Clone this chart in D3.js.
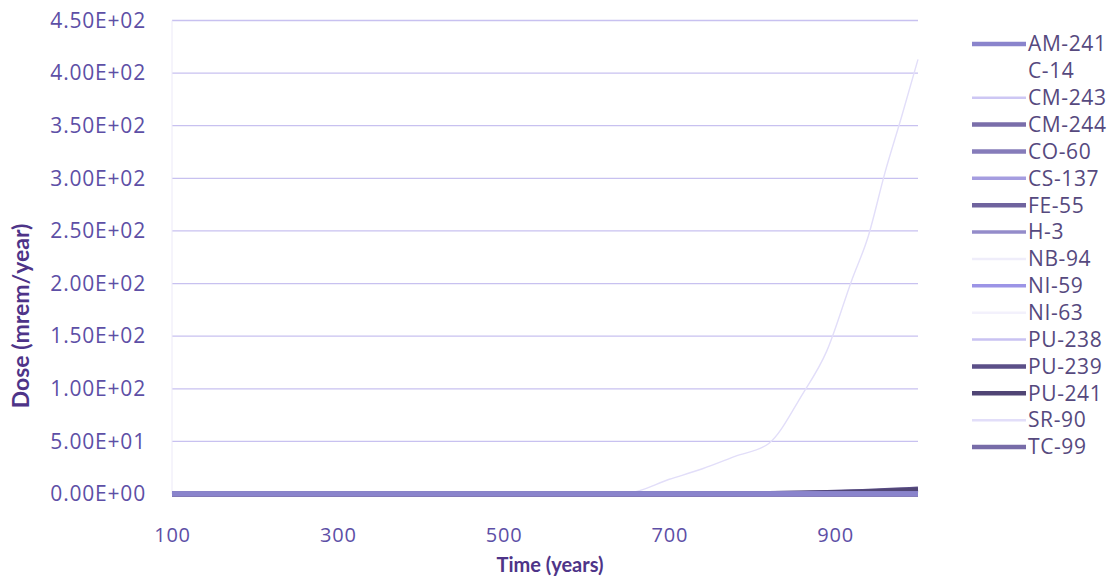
<!DOCTYPE html>
<html>
<head>
<meta charset="utf-8">
<script src="https://cdn.jsdelivr.net/npm/d3@7"></script>
<style>
  html, body { margin: 0; padding: 0; background: #ffffff; }
  svg { display: block; }
  text { font-family: "Open Sans", Lato, sans-serif; }
  .title { font-family: Lato, "Open Sans", sans-serif; font-weight: bold; }
</style>
</head>
<body>
<svg id="chart" width="1115" height="580"></svg>
<script>
// Sample times (years)
const years = [100, 200, 300, 400, 500, 600, 650, 700, 740, 780, 820, 860, 890, 920, 940, 960, 980, 1000];

// Dose per nuclide (mrem/year) at each sample time
const AM241 = [0.2, 0.2, 0.2, 0.2, 0.2, 0.2, 0.2, 0.2, 0.2, 0.2, 0.2, 0.2, 0.2, 0.2, 0.2, 0.2, 0.2, 0.2];
const C14   = [0, 0, 0, 0, 0, 0, 0, 0, 0, 0, 0, 0, 0, 0, 0, 0, 0, 0];
const CM243 = [0, 0, 0, 0, 0, 0, 0, 0, 0, 0, 0, 0, 0, 0, 0, 0, 0, 0];
const CM244 = [0.1, 0.1, 0.1, 0.1, 0.1, 0.1, 0.1, 0.1, 0.1, 0.1, 0.1, 0.1, 0.1, 0.1, 0.1, 0.1, 0.1, 0.1];
const CO60  = [0, 0, 0, 0, 0, 0, 0, 0, 0, 0, 0, 0, 0, 0, 0, 0, 0, 0];
const CS137 = [0, 0, 0, 0, 0, 0, 0, 0, 0, 0, 0, 0, 0, 0, 0, 0, 0, 0];
const FE55  = [0, 0, 0, 0, 0, 0, 0, 0, 0, 0, 0, 0, 0, 0, 0, 0, 0, 0];
const H3    = [0, 0, 0, 0, 0, 0, 0, 0, 0, 0, 0, 0, 0, 0, 0, 0, 0, 0];
const NB94  = [0, 0, 0, 0, 0, 0, 0, 0, 0, 0, 0, 0, 0, 0, 0, 0, 0, 0];
const NI59  = [0.3, 0.3, 0.3, 0.3, 0.3, 0.3, 0.3, 0.3, 0.3, 0.3, 0.3, 0.3, 0.3, 0.3, 0.3, 0.3, 0.3, 0.3];
const NI63  = [0, 0, 0, 0, 0, 0, 0, 0, 0, 0, 0, 0, 0, 0, 0, 0, 0, 0];
const PU238 = [0, 0, 0, 0, 0, 0, 0, 0, 0, 0, 0, 0, 0, 0, 0, 0, 0, 0];
const PU239 = [0, 0, 0, 0, 0, 0, 0, 0.1, 0.2, 0.3, 0.5, 0.9, 1.4, 2.1, 2.7, 3.3, 4.0, 4.7];
const PU241 = [0, 0, 0, 0, 0, 0, 0, 0.1, 0.1, 0.2, 0.4, 0.7, 1.1, 1.6, 2.1, 2.6, 3.1, 3.7];
const SR90  = [0, 0, 0, 0, 0, 0, 1, 14, 24, 36, 48, 94, 136, 203, 245, 305, 358, 413];
const TC99  = [0.1, 0.1, 0.1, 0.1, 0.1, 0.1, 0.1, 0.1, 0.1, 0.1, 0.1, 0.1, 0.1, 0.1, 0.1, 0.1, 0.1, 0.1];

const nuclides = ["AM-241", "C-14", "CM-243", "CM-244", "CO-60", "CS-137", "FE-55", "H-3",
                  "NB-94", "NI-59", "NI-63", "PU-238", "PU-239", "PU-241", "SR-90", "TC-99"];
const doses = [AM241, C14, CM243, CM244, CO60, CS137, FE55, H3, NB94, NI59, NI63, PU238, PU239, PU241, SR90, TC99];

const xTicks = [100, 300, 500, 700, 900];
const yTicks = [0, 50, 100, 150, 200, 250, 300, 350, 400, 450];

const lineColors = ["#8a84cc", "#ffffff", "#cdc7f4", "#7a6eaa", "#867cba", "#a59de0", "#6f639e", "#948cca",
                    "#efedfa", "#9c94e6", "#f3f1fc", "#c9c2f2", "#5b4f88", "#504575", "#e2def9", "#776ca8"];
const lineWidths = [5, 3, 3, 5, 5, 4, 5, 4, 3, 4, 3, 3, 5, 5, 1.4, 5];

const svg = d3.select("#chart");
const m = { left: 172, right: 918, top: 20.5, bottom: 494 };

const x = d3.scaleLinear().domain([100, 1000]).range([m.left, m.right]);
const y = d3.scaleLinear().domain([0, 450]).range([m.bottom, m.top]);

const textColor = "#5d4fa6";
const legendColor = "#56497e";
const titleColor = "#4e3488";

// horizontal gridlines
svg.append("g")
  .selectAll("line")
  .data(yTicks.filter(d => d > 0))
  .join("line")
  .attr("x1", m.left).attr("x2", m.right)
  .attr("y1", d => y(d)).attr("y2", d => y(d))
  .attr("stroke", "#c8c1f0")
  .attr("stroke-width", 1.3);

// left axis line
svg.append("line")
  .attr("x1", m.left).attr("x2", m.left)
  .attr("y1", m.top).attr("y2", m.bottom)
  .attr("stroke", "#ece9f8").attr("stroke-width", 1);

// y axis
const yAxis = svg.append("g")
  .attr("transform", `translate(${m.left - 26},0)`)
  .call(d3.axisLeft(y).tickValues(yTicks).tickSize(0).tickPadding(0)
        .tickFormat(d => d3.format(".2e")(d).replace("e", "E").replace(/E([+-])(\d)$/, "E$10$2").toUpperCase()));
yAxis.select(".domain").remove();
yAxis.selectAll("text")
  .attr("fill", textColor)
  .style("font-size", "21px")
  .style("letter-spacing", "0.8px");

// x axis
const xAxis = svg.append("g")
  .attr("transform", `translate(0,${m.bottom + 34})`)
  .call(d3.axisBottom(x).tickValues(xTicks).tickSize(0).tickPadding(0).tickFormat(d3.format("d")));
xAxis.select(".domain").remove();
xAxis.selectAll("text")
  .attr("fill", textColor)
  .style("font-size", "20px")
  .style("letter-spacing", "0.8px");

// series lines: dark nuclides underneath, the lighter baseline ones on top
const line = d3.line().x((d, i) => x(years[i])).y(d => y(d)).curve(d3.curveMonotoneX);
const order = [1, 8, 10, 14, 12, 13, 6, 3, 15, 2, 11, 5, 7, 4, 9, 0];
svg.append("g")
  .selectAll("path")
  .data(order)
  .join("path")
  .attr("d", k => line(doses[k]))
  .attr("fill", "none")
  .attr("stroke", k => lineColors[k])
  .attr("stroke-width", k => lineWidths[k])
  .attr("stroke-linejoin", "round");

// axis titles
svg.append("text")
  .attr("class", "title")
  .attr("x", (m.left + m.right) / 2 + 5)
  .attr("y", 572)
  .attr("text-anchor", "middle")
  .attr("fill", titleColor)
  .style("font-size", "20px")
  .text("Time (years)");

svg.append("text")
  .attr("class", "title")
  .attr("transform", `translate(29,316) rotate(-90)`)
  .attr("text-anchor", "middle")
  .attr("fill", titleColor)
  .style("font-size", "23px")
  .text("Dose (mrem/year)");

// legend
const legend = svg.append("g");
const ly = d3.scalePoint().domain(nuclides).range([44, 447]);
const items = legend.selectAll("g")
  .data(nuclides)
  .join("g")
  .attr("transform", d => `translate(972,${ly(d)})`);
items.append("line")
  .attr("x1", 0).attr("x2", 54)
  .attr("stroke", (d, i) => lineColors[i])
  .attr("stroke-width", (d, i) => Math.max(lineWidths[i] - 0.5, 2.5));
items.append("text")
  .attr("x", 56).attr("dy", "0.35em")
  .attr("fill", legendColor)
  .style("font-size", "21px")
  .style("letter-spacing", "0.6px")
  .text(d => d);
</script>
</body>
</html>
